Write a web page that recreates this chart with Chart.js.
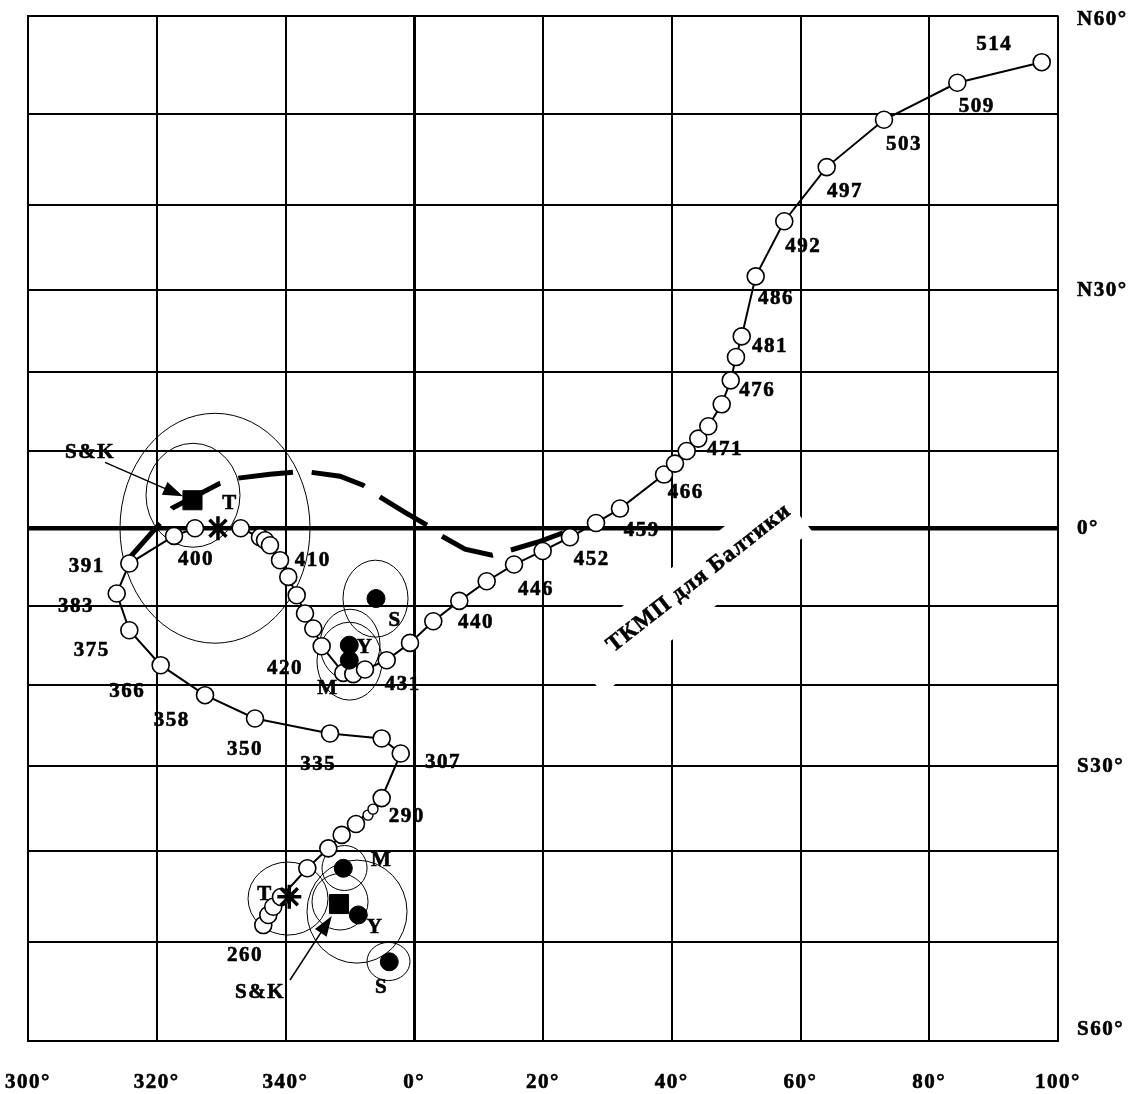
<!DOCTYPE html>
<html>
<head>
<meta charset="utf-8">
<script src="https://cdn.jsdelivr.net/npm/chart.js@4.4.1/dist/chart.umd.min.js"></script>
<style>
  html, body { margin: 0; padding: 0; background: #fff; }
  #wrap { width: 1141px; height: 1094px; position: relative; }
</style>
</head>
<body>
<div id="wrap"><canvas id="poleChart"></canvas></div>
<script>
// longitudes 300..360 are kept as -60..0
const xTickValues = [-60, -40, -20, 0, 20, 40, 60, 80, 100];
const xTickLabels = ["300°", "320°", "340°", "0°", "20°", "40°", "60°", "80°", "100°"];
const yTickValues = [60, 30, 0, -30, -60];
const yTickLabels = ["N60°", "N30°", "0°", "S30°", "S60°"];

// pole path, from 260 up to 514
const pathLon = [-23.45, -22.67, -21.90, -20.70, -16.61, -13.35, -11.27, -9.05, -5.06, -2.10,
  -5.06, -13.09, -24.74, -32.50, -39.39, -44.26, -46.22, -44.26, -37.32, -34.06,
  -26.96, -23.96, -23.18, -22.41, -20.85, -19.57, -18.26, -16.97, -15.68, -14.38,
  -11.02, -9.47, -7.65, -4.28, -0.66, 2.96, 7.00, 11.25, 15.50, 19.95,
  24.19, 28.23, 31.96, 38.80, 40.50, 42.32, 44.12, 45.68, 47.76, 49.16,
  49.98, 50.87, 53.04, 57.48, 64.07, 72.97, 84.36, 97.47];
const pathLat = [-48.15, -47.06, -46.17, -45.1, -41.9, -39.64, -38.1, -36.84, -33.8, -28.46,
  -26.63, -26.02, -24.18, -21.29, -17.53, -13.1, -8.41, -4.55, -0.99, 0,
  0, -1.16, -1.55, -2.19, -4.12, -6.27, -8.62, -10.97, -12.88, -15.13,
  -18.5, -18.66, -18.07, -16.9, -14.71, -11.95, -9.35, -6.83, -4.68, -2.93,
  -1.16, 0.68, 2.54, 6.92, 8.33, 9.94, 11.53, 13.1, 15.89, 18.91,
  21.82, 24.38, 31.67, 38.14, 44.26, 49.4, 53.28, 55.38];

// small rings near 290
const ringLon = [-7.18, -6.41];
const ringLat = [-35.8, -35.1];

const ageLabels = ["260", "290", "307", "335", "350", "358", "366", "375", "383", "391", "400", "410", "420", "431",
  "440", "446", "452", "459", "466", "471", "476", "481", "486", "492", "497", "503", "509", "514"];
const ageLabelLon = [-26.29, -1.17, 4.47, -14.9, -26.29, -37.68, -44.57, -50.1, -52.54, -50.88, -33.9, -15.77, -20.08, -1.79,
  9.59, 18.91, 27.57, 35.33, 42.17, 48.27, 53.29, 55.26, 56.19, 60.44, 66.91, 76.08, 87.37, 90.1];
const ageLabelLat = [-51.34, -36.0, -29.62, -29.78, -27.97, -24.48, -20.87, -15.72, -10.03, -4.9, -4.04, -4.12, -17.94, -19.92,
  -12.17, -7.89, -4.0, -0.26, 4.6, 10.16, 17.57, 23.06, 28.98, 35.2, 41.57, 46.74, 50.8, 57.16];

// Baltica reference path (dashed)
const balticaLon = [-44.16, -39.5, -37.63, -30.17, -27.53, -22.41, -18.83, -16.04, -11.53, -7.96,
  -5.48, -1.44, 1.98, 4.31, 7.88, 12.08, 14.87, 19.53, 24.19];
const balticaLat = [-3.74, 0.64, 2.58, 5.8, 6.44, 6.96, 7.21, 7.21, 6.7, 5.54,
  4.12, 2.06, 0.39, -1.03, -2.71, -3.48, -2.84, -1.68, -0.26];
const balticaName = "ТКМП для Балтики";
const balticaNameLon = 44.23;
const balticaNameLat = -6.44;

// other poles: S, Y, M (upper group), M, Y, S (lower group)
const poleLon = [-5.94, -10.09, -10.09, -11.02, -8.69, -3.88];
const poleLat = [-9.05, -15.0, -16.9, -41.9, -47.06, -52.04];
const skLon = [-34.45, -11.69];
const skLat = [3.61, -45.87];
const tLon = [-30.49, -19.41];
const tLat = [0, -45.06];

// confidence ovals: centre and half extents in degrees
const ovalLon = [-30.95, -34.37, -6.02, -9.98, -10.06, -19.61, -10.83, -11.53, -8.89, -4.0];
const ovalLat = [0, 4.24, -9.05, -14.92, -16.99, -45.21, -41.85, -45.59, -46.58, -51.99];
const ovalDLon = [14.76, 7.3, 5.05, 4.66, 5.05, 6.21, 3.5, 4.35, 7.77, 3.34];
const ovalDLat = [14.75, 6.69, 4.93, 4.5, 4.91, 4.01, 2.53, 3.09, 5.6, 1.99];

const letterText = ["S&K", "T", "S", "Y", "M", "M", "T", "Y", "S", "S&K"];
const letterLon = [-50.37, -28.62, -2.99, -7.65, -13.4, -5.06, -23.18, -6.1, -5.06, -23.96];
const letterLat = [9.78, 3.22, -11.82, -15.26, -20.42, -40.98, -44.88, -48.46, -54.74, -55.24];

const arrowFromLon = [-48.04, -19.3];
const arrowFromLat = [8.49, -53.92];
const arrowToLon = [-35.92, -12.82];
const arrowToLat = [4.12, -47.18];

const FONT = 'bold 21px "Liberation Serif", "DejaVu Serif", serif';

function halfTan(lat) {
  return Math.tan(lat * Math.PI / 360);
}

// latitude axis spaced like the original grid (stereographic in latitude)
class StereoLatScale extends Chart.LinearScale {
  getPixelForValue(value) {
    if (value === null || value === undefined) return NaN;
    const t0 = halfTan(this.min), t1 = halfTan(this.max);
    return this.getPixelForDecimal((halfTan(value) - t0) / (t1 - t0));
  }
  getValueForPixel(pixel) {
    const t0 = halfTan(this.min), t1 = halfTan(this.max);
    const t = t0 + this.getDecimalForPixel(pixel) * (t1 - t0);
    return Math.atan(t) * 360 / Math.PI;
  }
}
StereoLatScale.id = "stereoLat";
StereoLatScale.defaults = Chart.LinearScale.defaults;
Chart.register(StereoLatScale);

function toPoints(lons, lats) {
  return lons.map((lon, i) => ({ x: lon, y: lats[i] }));
}

function gridWidth(ctx, zeroWidth) {
  const v = ctx.tick ? ctx.tick.value : null;
  if (v === 0) return zeroWidth;
  return 2;
}

// bold text, stroked a little to look heavier like the scan
function boldText(ctx, text, px, py) {
  ctx.fillText(text, px, py);
  ctx.strokeText(text, px, py);
}

const backgroundPlugin = {
  id: "background",
  beforeDatasetsDraw(chart) {
    const ctx = chart.ctx;
    const x = chart.scales.x;
    const y = chart.scales.y;

    // white box behind the Baltica label cuts the grid
    const cx = x.getPixelForValue(balticaNameLon);
    const cy = y.getPixelForValue(balticaNameLat);
    ctx.save();
    ctx.translate(cx, cy);
    ctx.rotate(-38 * Math.PI / 180);
    ctx.fillStyle = "#fff";
    ctx.fillRect(-147, -25, 265, 57);
    ctx.fillStyle = "#000";
    ctx.strokeStyle = "#000";
    ctx.lineWidth = 0.6;
    ctx.font = 'bold 23px "Liberation Serif", "DejaVu Serif", serif';
    ctx.letterSpacing = "1px";
    ctx.textAlign = "center";
    ctx.textBaseline = "middle";
    boldText(ctx, balticaName, 0, 0);
    ctx.restore();

    // confidence ovals
    ctx.save();
    ctx.strokeStyle = "#000";
    ctx.lineWidth = 1;
    for (let i = 0; i < ovalLon.length; i++) {
      const px = x.getPixelForValue(ovalLon[i]);
      const rx = x.getPixelForValue(ovalLon[i] + ovalDLon[i]) - px;
      const top = y.getPixelForValue(ovalLat[i] + ovalDLat[i]);
      const bottom = y.getPixelForValue(ovalLat[i] - ovalDLat[i]);
      ctx.beginPath();
      ctx.ellipse(px, (top + bottom) / 2, rx, (bottom - top) / 2, 0, 0, Math.PI * 2);
      ctx.stroke();
    }
    ctx.restore();
  },
};

const labelPlugin = {
  id: "labels",
  afterDatasetsDraw(chart) {
    const ctx = chart.ctx;
    const x = chart.scales.x;
    const y = chart.scales.y;
    const area = chart.chartArea;

    ctx.save();
    ctx.fillStyle = "#000";
    ctx.strokeStyle = "#000";
    ctx.font = FONT;
    ctx.letterSpacing = "1.5px";
    ctx.textAlign = "center";
    ctx.textBaseline = "middle";
    ctx.lineWidth = 0.6;

    for (let i = 0; i < ageLabels.length; i++) {
      boldText(ctx, ageLabels[i], x.getPixelForValue(ageLabelLon[i]), y.getPixelForValue(ageLabelLat[i]));
    }
    for (let i = 0; i < letterText.length; i++) {
      boldText(ctx, letterText[i], x.getPixelForValue(letterLon[i]), y.getPixelForValue(letterLat[i]));
    }

    // axis labels
    for (let i = 0; i < xTickValues.length; i++) {
      boldText(ctx, xTickLabels[i], x.getPixelForValue(xTickValues[i]), area.bottom + 42);
    }
    ctx.textAlign = "left";
    for (let i = 0; i < yTickValues.length; i++) {
      let py = y.getPixelForValue(yTickValues[i]);
      py = Math.min(Math.max(py, area.top + 4), area.bottom - 11);
      boldText(ctx, yTickLabels[i], area.right + 19, py);
    }

    // arrows pointing at the S&K poles
    ctx.lineWidth = 1.5;
    for (let i = 0; i < arrowFromLon.length; i++) {
      const x0 = x.getPixelForValue(arrowFromLon[i]);
      const y0 = y.getPixelForValue(arrowFromLat[i]);
      const x1 = x.getPixelForValue(arrowToLon[i]);
      const y1 = y.getPixelForValue(arrowToLat[i]);
      const a = Math.atan2(y1 - y0, x1 - x0);
      ctx.beginPath();
      ctx.moveTo(x0, y0);
      ctx.lineTo(x1 - 10 * Math.cos(a), y1 - 10 * Math.sin(a));
      ctx.stroke();
      ctx.beginPath();
      ctx.moveTo(x1, y1);
      ctx.lineTo(x1 - 20 * Math.cos(a) + 7 * Math.sin(a), y1 - 20 * Math.sin(a) - 7 * Math.cos(a));
      ctx.lineTo(x1 - 20 * Math.cos(a) - 7 * Math.sin(a), y1 - 20 * Math.sin(a) + 7 * Math.cos(a));
      ctx.closePath();
      ctx.fill();
    }
    ctx.restore();
  },
};

function chart() {
  const ctx = document.getElementById("poleChart");
  new Chart(ctx, {
    type: "scatter",
    data: {
      datasets: [
        {
          label: "baltica",
          data: toPoints(balticaLon, balticaLat),
          showLine: true,
          borderColor: "#000",
          borderWidth: 5,
          borderDash: [55, 18.7],
          borderDashOffset: 9.7,
          borderCapStyle: "butt",
          pointRadius: 0,
          order: 6,
        },
        {
          label: "path",
          data: toPoints(pathLon, pathLat),
          showLine: true,
          borderColor: "#000",
          borderWidth: 2,
          pointRadius: 8.5,
          pointBackgroundColor: "#fff",
          pointBorderColor: "#000",
          pointBorderWidth: 1.6,
          order: 5,
        },
        {
          label: "rings",
          data: toPoints(ringLon, ringLat),
          pointRadius: 5,
          pointBackgroundColor: "#fff",
          pointBorderColor: "#000",
          pointBorderWidth: 1.4,
          order: 4,
        },
        {
          label: "poles",
          data: toPoints(poleLon, poleLat),
          pointRadius: 9,
          pointBackgroundColor: "#000",
          pointBorderColor: "#000",
          order: 3,
        },
        {
          label: "S&K",
          data: toPoints(skLon, skLat),
          pointStyle: "rect",
          pointRadius: 13.5,
          pointBackgroundColor: "#000",
          pointBorderColor: "#000",
          order: 2,
        },
        {
          label: "T",
          data: toPoints(tLon, tLat),
          pointStyle: "star",
          pointRadius: 12,
          pointBorderColor: "#000",
          pointBorderWidth: 3.5,
          order: 1,
        },
      ],
    },
    options: {
      responsive: true,
      maintainAspectRatio: false,
      animation: false,
      layout: { padding: { left: 28, top: 15, right: 83, bottom: 53 } },
      scales: {
        x: {
          type: "linear",
          min: -60,
          max: 100,
          ticks: { display: false, stepSize: 20 },
          grid: { color: "#000", lineWidth: (c) => gridWidth(c, 3), drawTicks: false },
          border: { display: true, color: "#000", width: 2 },
        },
        y: {
          type: "stereoLat",
          min: -60,
          max: 60,
          ticks: { display: false, stepSize: 10 },
          grid: { color: "#000", lineWidth: (c) => gridWidth(c, 4.5), drawTicks: false },
          border: { display: true, color: "#000", width: 2 },
        },
      },
      plugins: {
        legend: { display: false },
        tooltip: { enabled: false },
      },
    },
    plugins: [backgroundPlugin, labelPlugin],
  });
}

chart();
</script>
</body>
</html>
